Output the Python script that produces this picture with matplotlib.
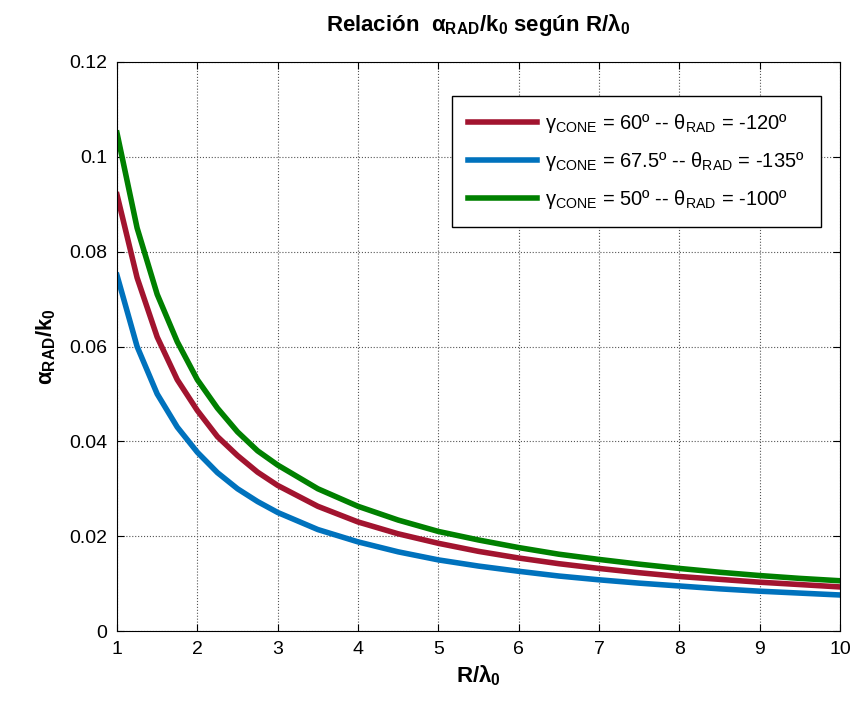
import matplotlib
matplotlib.use("Agg")
import matplotlib.pyplot as plt
from matplotlib.ticker import FuncFormatter

plt.rcParams['font.family'] = ['Liberation Sans', 'DejaVu Sans']
plt.rcParams['mathtext.fontset'] = 'custom'
plt.rcParams['mathtext.rm'] = 'Liberation Sans'
plt.rcParams['mathtext.it'] = 'Liberation Sans:italic'
plt.rcParams['mathtext.bf'] = 'Liberation Sans:bold'

# R/lambda0 sample points and alpha_RAD/k0
r_lambda = [1, 1.25, 1.5, 1.75, 2, 2.25, 2.5, 2.75, 3, 3.5, 4, 4.5, 5,
            5.5, 6, 6.5, 7, 7.5, 8, 8.5, 9, 9.5, 10]
alpha_60 = [0.092, 0.0745, 0.062, 0.053, 0.0465, 0.041, 0.037, 0.0335, 0.0307,
            0.0263, 0.023, 0.0205, 0.0185, 0.0168, 0.0154, 0.0142, 0.0132,
            0.0123, 0.0115, 0.0109, 0.0103, 0.0098, 0.0093]
alpha_675 = [0.075, 0.060, 0.050, 0.043, 0.0377, 0.0334, 0.030, 0.0273, 0.0250,
             0.0214, 0.0188, 0.0167, 0.015, 0.0137, 0.0126, 0.0116, 0.0108,
             0.0101, 0.0095, 0.0089, 0.0084, 0.008, 0.0076]
alpha_50 = [0.105, 0.085, 0.071, 0.061, 0.053, 0.047, 0.042, 0.038, 0.035,
            0.030, 0.0263, 0.0234, 0.021, 0.0192, 0.0176, 0.0162, 0.0151,
            0.0141, 0.0132, 0.0124, 0.0117, 0.0111, 0.0106]

labels = [r'γ$_{\mathrm{CONE}}$ = 60º -- θ$_{\mathrm{RAD}}$ = -120º',
          r'γ$_{\mathrm{CONE}}$ = 67.5º -- θ$_{\mathrm{RAD}}$ = -135º',
          r'γ$_{\mathrm{CONE}}$ = 50º -- θ$_{\mathrm{RAD}}$ = -100º']
colors = ['#A2142F', '#0072BD', '#008000']

fig = plt.figure(figsize=(8.56, 7.02), dpi=100)
ax = fig.add_axes([0.1367, 0.1011, 0.8446, 0.8106])

for ys, lab, c in zip([alpha_60, alpha_675, alpha_50], labels, colors):
    ax.plot(r_lambda, ys, color=c, linewidth=4, label=lab)

ax.set_xlim(1, 10)
ax.set_ylim(0, 0.12)
ax.set_xticks(range(1, 11))
ax.set_yticks([0, 0.02, 0.04, 0.06, 0.08, 0.1, 0.12])
ax.yaxis.set_major_formatter(FuncFormatter(lambda v, p: '%g' % round(v, 3)))
ax.tick_params(direction='in', top=True, right=True, labelsize=14, length=5, pad=7)
ax.grid(True, linestyle=':', color='#555555', linewidth=0.8)

ax.set_title(r'Relación  α$_{\mathbf{RAD}}$/k$_{\mathbf{0}}$ según R/λ$_{\mathbf{0}}$',
             fontsize=16, fontweight='bold', pad=22)
ax.set_xlabel(r'R/λ$_{\mathbf{0}}$', fontsize=16, fontweight='bold', labelpad=4)
ax.set_ylabel(r'α$_{\mathbf{RAD}}$/k$_{\mathbf{0}}$', fontsize=16, fontweight='bold', labelpad=8)

leg = ax.legend(loc='upper right', bbox_to_anchor=(0.987, 0.958), fontsize=14.5,
                fancybox=False, edgecolor='black', framealpha=1,
                handlelength=3.4, borderpad=0.8, labelspacing=0.75,
                handletextpad=0.4)
leg.get_frame().set_linewidth(1.0)

fig.savefig('out.png', dpi=100)
